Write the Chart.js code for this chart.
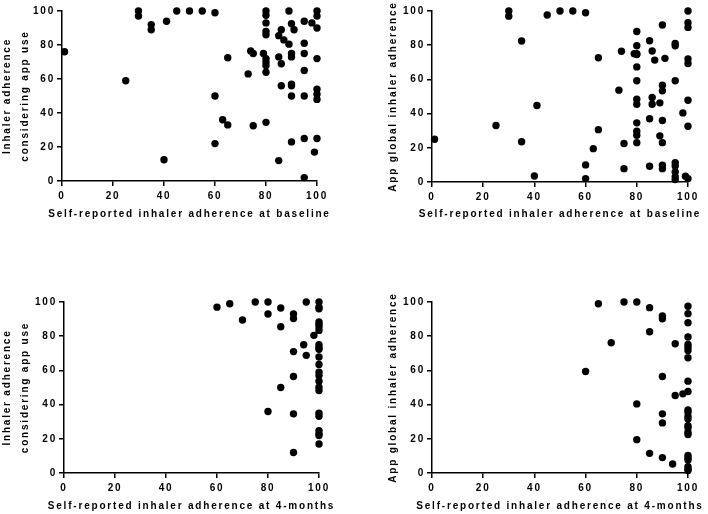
<!DOCTYPE html>
<html>
<head>
<meta charset="utf-8">
<script src="https://cdn.jsdelivr.net/npm/chart.js@4/dist/chart.umd.min.js"></script>
<style>
  html, body { margin: 0; padding: 0; background: #fff; }
  #wrap { position: relative; width: 708px; height: 514px; }
  .panel { position: absolute; width: 354px; height: 257px; }
</style>
</head>
<body>
<div id="wrap">
  <div class="panel" style="left:0;top:0"><canvas id="c1"></canvas></div>
  <div class="panel" style="left:354px;top:0"><canvas id="c2"></canvas></div>
  <div class="panel" style="left:0;top:257px"><canvas id="c3"></canvas></div>
  <div class="panel" style="left:354px;top:257px"><canvas id="c4"></canvas></div>
</div>
<script>
const AXIS_TICKS = [0, 20, 40, 60, 80, 100];

// baseline self-report vs adherence considering app use
const baseX1 = [1, 25, 30, 30, 35, 35, 40, 41, 45, 50, 55, 60, 60, 60, 63, 65, 65, 73, 74, 75, 75, 79,
  80, 80, 80, 80, 80, 80, 80, 80, 80, 80, 85, 85, 85, 86, 86, 86, 87, 89, 89, 90, 91, 90, 90, 90, 90, 90, 90,
  95, 95, 95, 95, 95, 95, 95, 98, 99, 100, 100, 100, 100, 100, 100, 100, 100];
const appUseY1 = [76, 59, 100, 97, 92, 89, 12.5, 94, 100, 100, 100, 99, 50, 22, 36, 72.5, 33, 63, 76.5, 75, 32.5, 75,
  100, 97.5, 93, 88, 86, 72, 70, 68, 64, 34.5, 85.5, 73, 12, 89, 69, 56, 83, 100, 80.5, 92.5, 89, 75, 73, 57, 56, 50, 23,
  94, 81, 75, 65, 50, 25, 2, 93, 17, 100, 97, 90, 72, 54, 51, 48, 25];

// baseline self-report vs app global adherence
const baseX2 = [1, 25, 30, 30, 35, 35, 40, 41, 45, 50, 55, 60, 60, 60, 63, 65, 65, 73, 74, 75, 75, 79,
  80, 80, 80, 80, 80, 80, 80, 80, 80, 80, 80, 80, 85, 85, 85, 86, 86, 86, 87, 89, 89,
  90, 90, 90, 90, 90, 90, 90, 91, 95, 95, 95, 95, 95, 95, 95, 95, 98, 99,
  100, 100, 100, 100, 100, 100, 100, 100];
const globalY2 = [25, 33, 100, 97, 82.5, 23.5, 3.5, 44.7, 97.7, 100, 100, 99, 10, 2, 19.5, 72.7, 30.6, 53.7, 76.5, 22.5, 7.8, 75,
  75, 74.5, 88, 79.7, 67.3, 59.2, 48.4, 45.5, 34.6, 29.7, 27.3, 23, 82.6, 37, 9.2, 76.6, 49.4, 45.5, 71.3, 46.3, 27,
  91.8, 56.6, 53.3, 36, 23, 9.8, 7.8, 72.3, 81, 79.7, 59.2, 11.3, 9.4, 5.9, 3, 1.4, 40.4, 3.4,
  2, 100, 93.2, 90.4, 72, 69.3, 47.8, 32.6];

// 4-month self-report vs adherence considering app use
const monthX3 = [60, 65, 70, 75, 80, 80, 80, 85, 85, 85, 90, 90, 90, 90, 90, 90, 94, 95, 95, 98,
  100, 100, 100, 100, 100, 100, 100, 100, 100, 100, 100, 100, 100, 100, 100, 100, 100, 100, 100, 100, 100, 100, 100];
const appUseY3 = [97, 99, 89.5, 100, 100, 93, 36, 96.5, 85.5, 50, 93, 90.3, 71, 56.4, 34.6, 12, 75, 68.8, 100, 80.5,
  100, 97, 96, 88.3, 87, 85.4, 83.4, 75, 73.6, 72.3, 67.8, 63.5, 59, 57, 53.7, 50.2, 48.2, 35, 33.2, 24.8, 22.9, 21.9, 17];

// 4-month self-report vs app global adherence
const monthX4 = [60, 65, 70, 75, 80, 80, 80, 85, 85, 85, 90, 90, 90, 90, 90, 90, 94, 95, 95, 98,
  100, 100, 100, 100, 100, 100, 100, 100, 100, 100, 100, 100, 100, 100, 100, 100, 100, 100, 100, 100, 100, 100, 100, 100];
const globalY4 = [59.4, 99, 76.2, 100, 100, 40.4, 19.5, 96.7, 82.6, 11.5, 91.8, 90.2, 56.4, 34.6, 29.3, 9, 5.3, 75.6, 45.3, 46.3,
  97.5, 93.2, 87.9, 79.5, 75.2, 73.6, 71.7, 67.4, 53.7, 47.7, 36.9, 35.5, 33, 31.6, 27.7, 26.4, 23.8, 22.5, 10.2, 8.8, 7.6, 3.7, 2.3, 1.4];

const TITLE_APP_USE = ['Inhaler adherence', 'considering app use'];
const TITLE_GLOBAL = ['App global inhaler adherence'];
const TITLE_BASE = 'Self-reported inhaler adherence at baseline';
const TITLE_MONTH = 'Self-reported inhaler adherence at 4-months';

const FONT = 'Liberation Sans, Arial, Helvetica, sans-serif';
const SPACING = '1.8px';

// canvas has no css letter-spacing; set it on the context before each draw
const spacingPlugin = {
  id: 'letter-spacing',
  beforeDraw(chart) { chart.ctx.letterSpacing = SPACING; },
};

// built-in scale titles get squeezed to the axis length (maxWidth), the
// original runs wider than its axes, so draw them by hand
const axisTitlePlugin = {
  id: 'axis-titles',
  afterDraw(chart) {
    const t = chart.$titles;
    if (!t) return;
    const { ctx, chartArea: ca } = chart;
    ctx.save();
    ctx.letterSpacing = SPACING;
    ctx.font = `bold 10px ${FONT}`;
    ctx.fillStyle = '#000';
    ctx.textAlign = 'center';
    ctx.textBaseline = 'middle';
    ctx.fillText(t.x, (ca.left + ca.right) / 2, t.xAt);
    ctx.translate(t.yAt, (ca.top + ca.bottom) / 2);
    ctx.rotate(-Math.PI / 2);
    t.y.forEach((line, i) => ctx.fillText(line, 0, i * t.yGap));
    ctx.restore();
  },
};

function toPoints(xs, ys) {
  return xs.map((x, i) => ({ x, y: ys[i] }));
}

function axisOpts(fit, pad) {
  return {
    type: 'linear', min: 0, max: 100,
    afterFit: fit,
    afterBuildTicks: s => { s.ticks = AXIS_TICKS.map(v => ({ value: v })); },
    ticks: { color: '#000', padding: pad, font: { family: FONT, size: 10, weight: 'bold' } },
    grid: { drawOnChartArea: false, drawTicks: true, tickLength: 5, color: '#000', lineWidth: 1.5 },
    border: { display: true, color: '#000', width: 1.5 },
  };
}

function makePanel(canvasId, xs, ys, yTitle, xTitle, box) {
  const chart = new Chart(document.getElementById(canvasId), {
    type: 'scatter',
    data: {
      datasets: [{
        data: toPoints(xs, ys),
        parsing: false,
        pointRadius: 3.7,
        pointHoverRadius: 3.7,
        borderWidth: 0,
        backgroundColor: '#000',
        clip: false,
      }],
    },
    options: {
      responsive: true,
      maintainAspectRatio: false,
      animation: false,
      events: [],
      layout: { padding: { top: box.top, right: box.right, left: 0, bottom: 0 } },
      scales: {
        x: axisOpts(s => { s.height = box.xh; }, 4),
        y: axisOpts(s => { s.width = box.yw; }, 2),
      },
      plugins: { legend: { display: false }, tooltip: { enabled: false } },
    },
    plugins: [spacingPlugin, axisTitlePlugin],
  });
  chart.$titles = { x: xTitle, xAt: box.xtAt, y: yTitle, yAt: box.ytAt, yGap: 18 };
  chart.draw();
}

makePanel('c1', baseX1, appUseY1, TITLE_APP_USE, TITLE_BASE,
  { top: 11, right: 37, yw: 62, xh: 76, xtAt: 214, ytAt: 7.5 });
makePanel('c2', baseX2, globalY2, TITLE_GLOBAL, TITLE_BASE,
  { top: 11, right: 20, yw: 78, xh: 75, xtAt: 214, ytAt: 39 });
makePanel('c3', monthX3, appUseY3, TITLE_APP_USE, TITLE_MONTH,
  { top: 45, right: 35, yw: 64, xh: 41, xtAt: 249, ytAt: 7.5 });
makePanel('c4', monthX4, globalY4, TITLE_GLOBAL, TITLE_MONTH,
  { top: 45, right: 20, yw: 78, xh: 41, xtAt: 249, ytAt: 39 });
</script>
</body>
</html>
